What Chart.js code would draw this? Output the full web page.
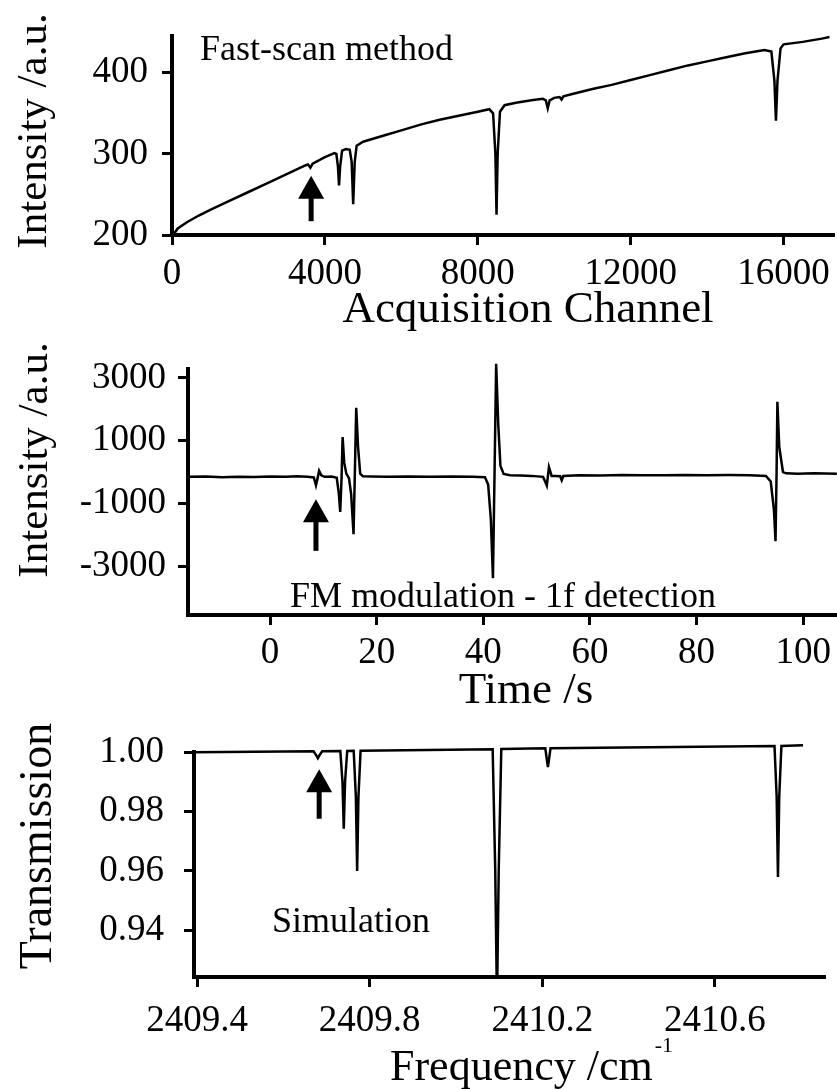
<!DOCTYPE html>
<html>
<head>
<meta charset="utf-8">
<script src="https://cdn.jsdelivr.net/npm/chart.js@4"></script>
<style>
  html, body { margin: 0; padding: 0; background: #fff; }
  #wrap { position: relative; width: 837px; height: 1089px; }
  canvas { position: absolute; left: 0; }
</style>
</head>
<body>
<div id="wrap">
  <canvas id="scanChart" width="837" height="335" style="top:0"></canvas>
  <canvas id="fmChart" width="837" height="375" style="top:335px"></canvas>
  <canvas id="simChart" width="837" height="379" style="top:710px"></canvas>
</div>
<script>
// Fast-scan method: acquisition channel vs intensity
const scanChannel = [0, 150, 400, 700, 1000, 1500, 2000, 2500, 3000, 3500, 3560, 3620, 3680, 4000, 4250, 4300, 4340, 4370, 4400, 4450, 4550, 4650, 4700, 4740, 4780, 4830, 5000, 5500, 6000, 6500, 7000, 7500, 8000, 8300, 8400, 8460, 8490, 8520, 8580, 8700, 9000, 9400, 9700, 9780, 9830, 9880, 10000, 10140, 10190, 10240, 10500, 11000, 11500, 12000, 12500, 13000, 13500, 14000, 14500, 15000, 15500, 15680, 15760, 15800, 15840, 15920, 16000, 16500, 17000, 17200];
const scanIntensity = [198, 208, 216, 224, 231, 242, 253, 264, 275, 286, 287, 283, 288, 296, 301, 300, 285, 261, 285, 304, 306, 305, 290, 238, 290, 310, 315, 322, 329, 336, 342, 347, 352, 355, 350, 300, 225, 300, 352, 360, 363, 366, 368, 366, 356, 366, 369, 370, 367, 371, 374, 380, 385, 391, 397, 403, 409, 414, 419, 424, 428, 426, 390, 341, 390, 430, 435, 438, 442, 444];
const scanXTicks = [0, 4000, 8000, 12000, 16000];
const scanYTicks = [200, 300, 400];
const scanArrow = [3640, 273, 217]; // x, tip, tail

// FM modulation - 1f detection: time vs intensity
const fmTime = [-15.4, -12, -9, -6, -3, 0, 3, 5, 7, 8.2, 8.6, 8.9, 9.2, 9.6, 10.2, 11.5, 12.5, 12.9, 13.15, 13.4, 13.6, 13.9, 14.3, 14.8, 15.2, 15.65, 15.9, 16.15, 16.5, 16.9, 17.4, 19, 22, 26, 30, 34, 38, 40.3, 40.9, 41.4, 41.8, 42.1, 42.4, 42.8, 43.2, 43.8, 45, 47, 49, 51.2, 51.9, 52.3, 52.8, 53.5, 54.4, 54.7, 55, 58, 62, 66, 70, 74, 78, 82, 86, 90, 93, 93.9, 94.5, 94.8, 95.0, 95.15, 95.5, 96.2, 96.8, 99, 102, 106.3];
const fmIntensity = [-150, -140, -160, -145, -155, -140, -150, -135, -150, -170, -420, -200, 40, -100, -150, -140, -180, -700, -1270, -200, 1120, 300, -50, -200, -700, -1980, 0, 2050, 800, -50, -130, -140, -150, -140, -150, -140, -150, -160, -400, -1500, -3380, 0, 3450, 1500, 200, -60, -100, -110, -120, -150, -430, 160, -120, -120, -130, -260, -120, -100, -110, -90, -100, -100, -90, -100, -95, -100, -120, -300, -1200, -2200, 0, 2240, 800, 0, -40, -50, -40, -50];
const fmXTicks = [0, 20, 40, 60, 80, 100];
const fmYTicks = [-3000, -1000, 1000, 3000];
const fmArrow = [8.6, -865, -2510];

// Simulation: frequency vs transmission
const simFreq = [2409.393, 2409.67, 2409.676, 2409.68, 2409.684, 2409.69, 2409.732, 2409.737, 2409.740, 2409.743, 2409.748, 2409.763, 2409.768, 2409.771, 2409.774, 2409.779, 2410.085, 2410.091, 2410.095, 2410.099, 2410.105, 2410.207, 2410.211, 2410.213, 2410.215, 2410.219, 2410.738, 2410.743, 2410.746, 2410.749, 2410.754, 2410.804];
const simTrans = [1.0, 1.0003, 0.999, 0.998, 0.999, 1.0003, 1.0004, 0.99, 0.9742, 0.99, 1.0004, 1.0005, 0.985, 0.960, 0.985, 1.0005, 1.0010, 0.96, 0.915, 0.96, 1.0011, 1.0013, 0.997, 0.995, 0.997, 1.0013, 1.0021, 0.985, 0.958, 0.985, 1.0021, 1.0023];
const simXTicks = [2409.4, 2409.8, 2410.2, 2410.6];
const simYTicks = [0.94, 0.96, 0.98, 1.00];
const simArrow = [2409.683, 0.9943, 0.9776];

const FONT = '"Liberation Serif", "Times New Roman", serif';

const labelsPlugin = {
    id: 'labels',
    afterDraw(chart, args, opts) {
        const ctx = chart.ctx;
        ctx.save();
        ctx.fillStyle = '#000';
        let lastEnd = 0, lastY = 0;
        (opts.items || []).forEach(t => {
            ctx.font = `${t.size}px ${FONT}`;
            ctx.textAlign = t.align || 'left';
            ctx.textBaseline = t.rotate ? 'middle' : 'alphabetic';
            // superscripts follow right after the previous text
            const x = t.sup ? lastEnd + 2 : t.x;
            const y = t.sup ? lastY - t.rise : t.y;
            ctx.save();
            ctx.translate(x, y);
            if (t.rotate) ctx.rotate(-Math.PI / 2);
            ctx.fillText(t.text, 0, 0);
            ctx.restore();
            lastEnd = x + ctx.measureText(t.text).width;
            lastY = y;
        });
        // arrow pointing up, placed in data coordinates
        const a = opts.arrow;
        if (a) {
            const xs = chart.scales.x, ys = chart.scales.y;
            const x = xs.getPixelForValue(a[0]);
            const tip = ys.getPixelForValue(a[1]);
            const tail = ys.getPixelForValue(a[2]);
            ctx.beginPath();
            ctx.moveTo(x, tip);
            ctx.lineTo(x - 13, tip + 23);
            ctx.lineTo(x + 13, tip + 23);
            ctx.closePath();
            ctx.fill();
            ctx.fillRect(x - 2.5, tip + 20, 5, tail - tip - 20);
        }
        ctx.restore();
    }
};

function makeChart(id, cfg) {
    const tickFont = { family: FONT, size: 37 };
    return new Chart(document.getElementById(id), {
        type: 'line',
        data: {
            datasets: [{
                data: cfg.xs.map((v, i) => ({ x: v, y: cfg.ys[i] })),
                borderColor: '#000',
                borderWidth: 2.5,
                pointRadius: 0,
                tension: 0,
                clip: cfg.clip
            }]
        },
        options: {
            responsive: false,
            animation: false,
            events: [],
            layout: { padding: cfg.padding },
            plugins: {
                legend: { display: false },
                tooltip: { enabled: false },
                labels: { items: cfg.labels, arrow: cfg.arrow }
            },
            scales: {
                x: {
                    type: 'linear', min: cfg.xMin, max: cfg.xMax,
                    afterBuildTicks: s => { s.ticks = cfg.xTicks.map(v => ({ value: v })); },
                    afterFit: s => { s.height = cfg.xHeight; },
                    ticks: { font: tickFont, color: '#000', padding: cfg.xPad, maxRotation: 0, autoSkip: false, callback: cfg.xFmt },
                    grid: { drawOnChartArea: false, drawTicks: true, tickLength: 10, tickWidth: 3, tickColor: '#000' },
                    border: { display: true, color: '#000', width: 4 }
                },
                y: {
                    type: 'linear', min: cfg.yMin, max: cfg.yMax,
                    afterBuildTicks: s => { s.ticks = cfg.yTicks.map(v => ({ value: v })); },
                    afterFit: s => { s.width = cfg.yWidth; },
                    ticks: { font: tickFont, color: '#000', padding: cfg.yPad, autoSkip: false, callback: cfg.yFmt },
                    grid: { drawOnChartArea: false, drawTicks: true, tickLength: 10, tickWidth: 3, tickColor: '#000' },
                    border: { display: true, color: '#000', width: 4 }
                }
            }
        },
        plugins: [labelsPlugin]
    });
}

makeChart('scanChart', {
    xs: scanChannel, ys: scanIntensity,
    xMin: 0, xMax: 17340, yMin: 200, yMax: 445,
    xTicks: scanXTicks, yTicks: scanYTicks,
    xFmt: v => String(v), yFmt: v => String(v),
    padding: { left: 0, right: 2, top: 23, bottom: 0 },
    xHeight: 100, yWidth: 172, xPad: 7, yPad: 14,
    clip: { left: 5, top: 10, right: 5, bottom: 0 },
    arrow: scanArrow,
    labels: [
        { text: 'Intensity /a.u.', x: 35, y: 131, size: 43, rotate: true, align: 'center' },
        { text: 'Fast-scan method', x: 200, y: 60, size: 36 },
        { text: 'Acquisition Channel', x: 528, y: 322, size: 45, align: 'center' }
    ]
});

makeChart('fmChart', {
    xs: fmTime, ys: fmIntensity,
    xMin: -15.4, xMax: 106.3, yMin: -4554, yMax: 3280,
    xTicks: fmXTicks, yTicks: fmYTicks,
    xFmt: v => String(v), yFmt: v => String(v),
    padding: { left: 0, right: 0, top: 28, bottom: 0 },
    xHeight: 95, yWidth: 188, xPad: 6, yPad: 12,
    clip: false,
    arrow: fmArrow,
    labels: [
        { text: 'Intensity /a.u.', x: 36, y: 125, size: 43, rotate: true, align: 'center' },
        { text: 'FM modulation - 1f detection', x: 290, y: 272, size: 36 },
        { text: 'Time /s', x: 526, y: 368, size: 45, align: 'center' }
    ]
});

makeChart('simChart', {
    xs: simFreq, ys: simTrans,
    xMin: 2409.393, xMax: 2410.855, yMin: 0.9243, yMax: 1.0,
    xTicks: simXTicks, yTicks: simYTicks,
    xFmt: v => v.toFixed(1), yFmt: v => v.toFixed(2),
    padding: { left: 0, right: 12, top: 41, bottom: 0 },
    xHeight: 112, yWidth: 194, xPad: 12, yPad: 20,
    clip: { left: 5, top: 10, right: 5, bottom: 0 },
    arrow: simArrow,
    labels: [
        { text: 'Transmission', x: 39, y: 136, size: 46, rotate: true, align: 'center' },
        { text: 'Simulation', x: 272, y: 222, size: 36 },
        { text: 'Frequency /cm', x: 390, y: 370, size: 44 },
        { text: '-1', sup: true, rise: 28, size: 22 }
    ]
});
</script>
</body>
</html>
